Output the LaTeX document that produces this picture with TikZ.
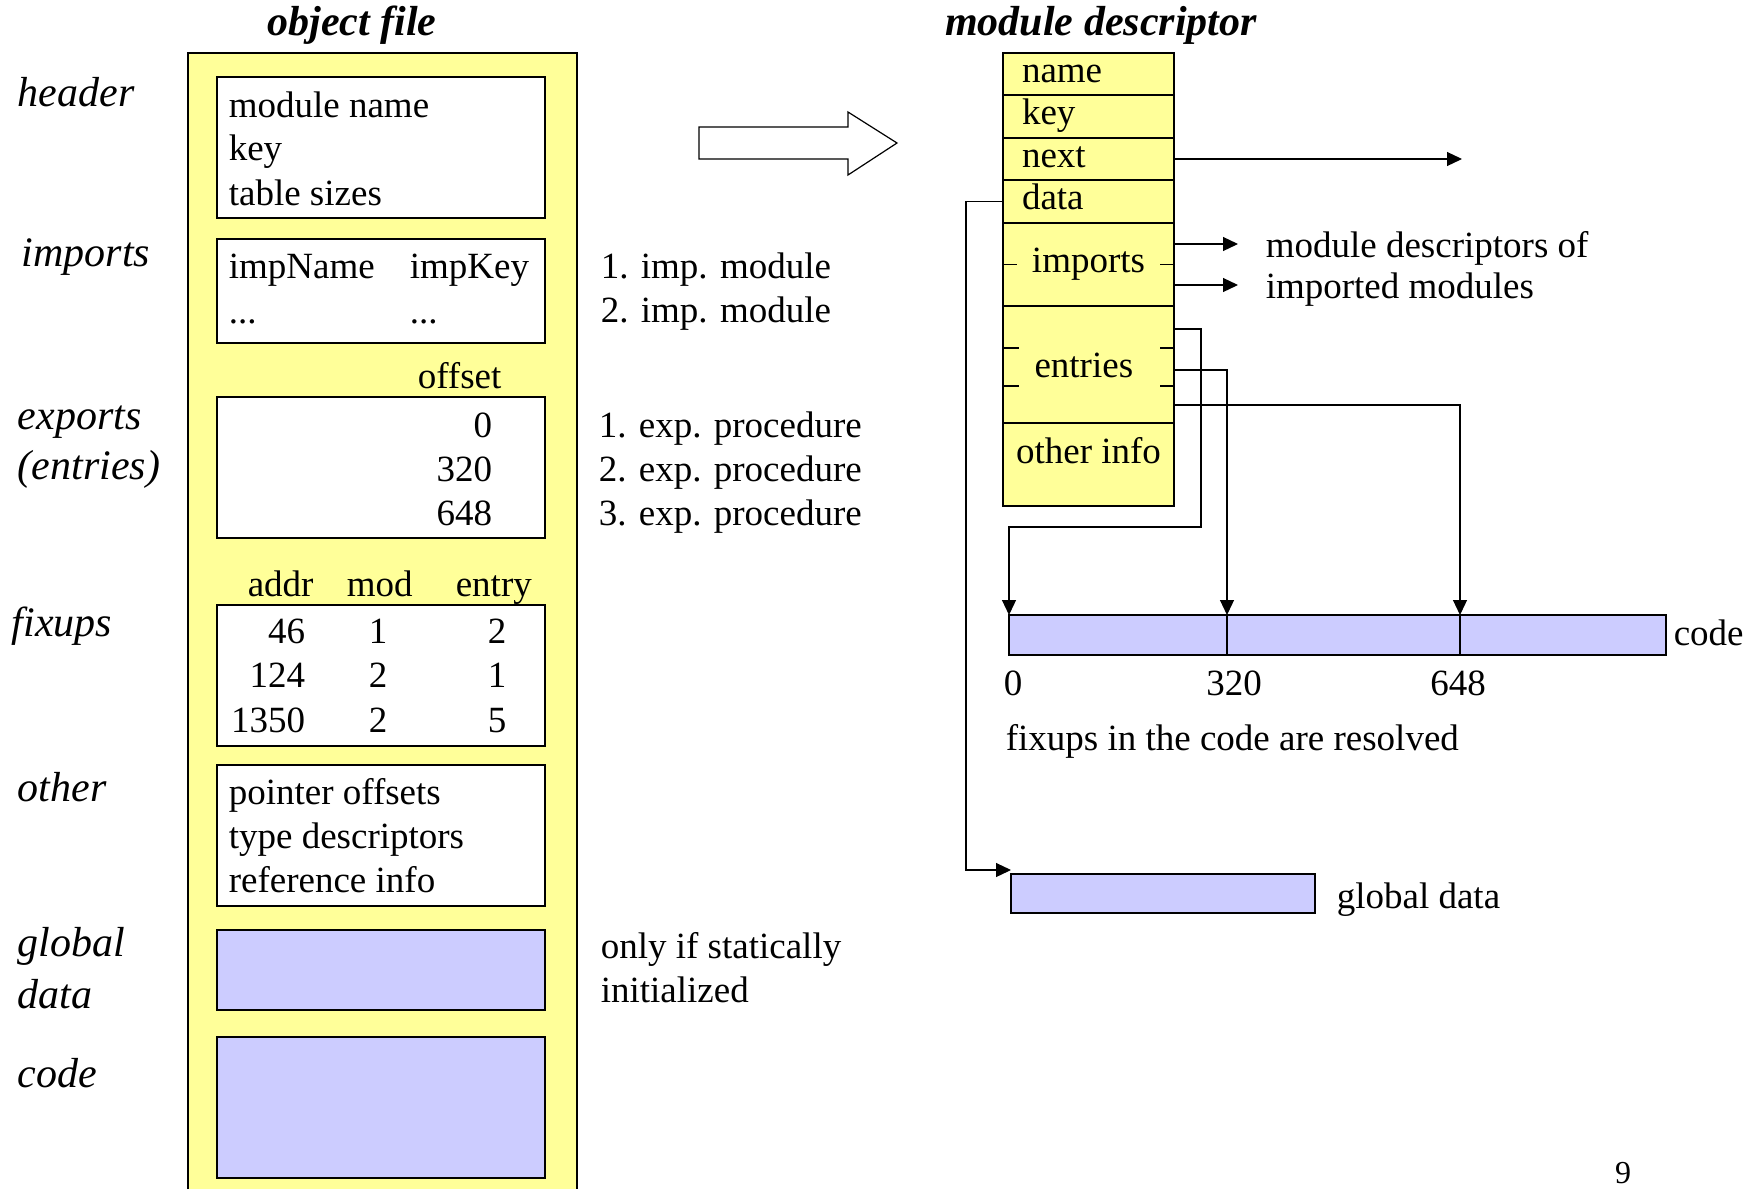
\documentclass[tikz,border=0pt]{standalone}
\usepackage{fontspec}
\setmainfont{Liberation Serif}
\usetikzlibrary{positioning,arrows.meta}
\definecolor{paleyellow}{HTML}{FFFF99}
\definecolor{paleblue}{HTML}{CCCCFF}

\begin{document}
\begin{tikzpicture}[x=0.5pt, y=-0.5pt,
		line width=0.8pt,
		txt/.style={anchor=base west, inner sep=0pt, font=\fontsize{18.5}{22}\selectfont},
		lbl/.style={anchor=base west, inner sep=0pt, font=\fontsize{21}{25}\selectfont\itshape},
		title/.style={anchor=base, inner sep=0pt, font=\fontsize{21}{25}\selectfont\bfseries\itshape},
		box/.style={draw, fill=white, anchor=north west, minimum width=164pt, inner sep=0pt, outer sep=0pt},
		bar/.style={draw, fill=paleblue, anchor=north west, inner sep=0pt, outer sep=0pt},
		field/.style={draw, fill=paleyellow, minimum width=85.5pt, inner ysep=0pt, outer sep=0pt,
			text height=13pt, text depth=4.6pt, font=\fontsize{18.5}{22}\selectfont},
		lfield/.style={field, text width=66.5pt, inner xsep=9.5pt, align=left},
		conn/.style={line width=0.6pt},
		arr/.style={conn, -{Triangle[length=7.5pt, width=7pt]}}]

	\useasboundingbox (0,0) rectangle (1756,1189);

	\draw[fill=paleyellow] (188,1189) |- (577,53) -- (577,1189);
	\node[title] (tObj) at (352,35) {object file};
	\node[title] (tMod) at (1101,35) {module descriptor};

	\node[box, minimum height=70.5pt] (hdr) at (217,77) {};
	\node[box, minimum height=52pt] (imp) at (217,239) {};
	\node[box, minimum height=70.5pt] (exp) at (217,397) {};
	\node[box, minimum height=70.5pt] (fix) at (217,605) {};
	\node[box, minimum height=70.5pt] (oth) at (217,765) {};
	\node[box, fill=paleblue, minimum height=40pt] (gdat) at (217,930) {};
	\node[box, fill=paleblue, minimum height=70.5pt] (cod) at (217,1037) {};

	\node[lbl] (lHdr) at (17,106) {header};
	\node[lbl] (lImp) at (21,266) {imports};
	\node[lbl] (lExp) at (17,429) {exports};
	\node[lbl] (lEnt) at (17,479) {(entries)};
	\node[lbl] (lFix) at (11,636) {fixups};
	\node[lbl] (lOth) at (17,801) {other};
	\node[lbl] (lGlo) at (17,956) {global};
	\node[lbl] (lDat) at (17,1008) {data};
	\node[lbl] (lCod) at (17,1087) {code};

	\node[txt] (h1) at (228,117) {module name};
	\node[txt] (h2) at (228,160) {key};
	\node[txt] (h3) at (228,205) {table sizes};
	\node[txt] (i1) at (228,278) {impName};
	\node[txt] (i2) at (409,278) {impKey};
	\node[txt] (i3) at (228,323) {...};
	\node[txt] (i4) at (409,323) {...};
	\node[txt] (off) at (417,388) {offset};
	\node[txt, anchor=base east] (x1) at (493,437) {0};
	\node[txt, anchor=base east] (x2) at (493,481) {320};
	\node[txt, anchor=base east] (x3) at (493,525) {648};
	\node[txt] (fA) at (247,596) {addr};
	\node[txt] (fM) at (346,596) {mod};
	\node[txt] (fE) at (455,596) {entry};
	\foreach \a/\m/\e [count=\i from 0] in {46/1/2, 124/2/1, 1350/2/5} {
		\node[txt, anchor=base east] (fa\i) at (306,{643+44.5*\i}) {\a};
		\node[txt, anchor=base] (fm\i) at (378,{643+44.5*\i}) {\m};
		\node[txt, anchor=base] (fe\i) at (497,{643+44.5*\i}) {\e};
	}
	\node[txt] (o1) at (228,804) {pointer offsets};
	\node[txt] (o2) at (228,848) {type descriptors};
	\node[txt] (o3) at (228,892) {reference info};

	\node[txt] (m1) at (600,278) {1. imp. module};
	\node[txt] (m2) at (600,322) {2. imp. module};
	\node[txt] (p1) at (598,437) {1. exp. procedure};
	\node[txt] (p2) at (598,481) {2. exp. procedure};
	\node[txt] (p3) at (598,525) {3. exp. procedure};
	\node[txt] (s1) at (600,958) {only if statically};
	\node[txt] (s2) at (600,1002) {initialized};

	\draw[conn] (699,127) -- (848,127) -- (848,112) -- (897,143) -- (848,175) -- (848,159) -- (699,159) -- cycle;

	\node[lfield, minimum height=21pt, anchor=north west] (name) at (1003,53) {name};
	\node[lfield, minimum height=21.5pt, below=0pt of name] (key) {key};
	\node[lfield, minimum height=21pt, below=0pt of key] (next) {next};
	\node[lfield, minimum height=21.5pt, below=0pt of next] (data) {data};
	\node[field, minimum height=41.5pt, below=0pt of data] (imps) {imports};
	\node[field, minimum height=58.5pt, text depth=0.5pt, text width=72pt, align=left, below=0pt of imps] (ents) {\hspace*{9pt}entries};
	\node[field, minimum height=41.5pt, text depth=14.5pt, below=0pt of ents] (other) {other info};

	\draw[conn] (imps.west) -- ++(14,0) (imps.east) -- ++(-14,0);
	\draw[conn] ([yshift=8.25pt]ents.west) -- ++(16,0) ([yshift=-10.75pt]ents.west) -- ++(16,0)
		([yshift=8.25pt]ents.east) -- ++(-14,0) ([yshift=-10.75pt]ents.east) -- ++(-14,0);

	\coordinate (nextEnd) at (1462,159);
	\coordinate (impEnd) at (1238,0);
	\draw[arr] (next.east) -- (next.east -| nextEnd);
	\draw[arr] ([yshift=10.25pt]imps.east) -- ([yshift=10.25pt]imps.east -| impEnd);
	\draw[arr] ([yshift=-10.25pt]imps.east) -- ([yshift=-10.25pt]imps.east -| impEnd);
	\node[txt] (d1) at (1265,257) {module descriptors of};
	\node[txt] (d2) at (1265,298) {imported modules};

	\node[bar, minimum width=328.5pt, minimum height=20pt] (codebar) at (1009,615) {};
	\coordinate (c320) at (1227,615);
	\coordinate (c648) at (1460,615);
	\coordinate (bend) at (1201,527);
	\draw (c320) -- (c320 |- codebar.south);
	\draw (c648) -- (c648 |- codebar.south);
	\draw[arr] ([yshift=17.75pt]ents.east) -| (bend) -| (codebar.north west);
	\draw[arr] ([yshift=-2.75pt]ents.east) -| (c320);
	\draw[arr] ([yshift=-20.25pt]ents.east) -| (c648);
	\node[txt] (codeLbl) at (1673,645) {code};
	\node[txt, anchor=base] (n0) at (1013,695) {0};
	\node[txt, anchor=base] (n320) at (1234,695) {320};
	\node[txt, anchor=base] (n648) at (1458,695) {648};
	\node[txt] (resolved) at (1005,750) {fixups in the code are resolved};

	\node[bar, minimum width=152pt, minimum height=19.5pt] (gbar) at (1011,874) {};
	\node[txt] (gLbl) at (1336,908) {global data};
	\draw[arr] (data.west) -- ++(-37,0) |- ([yshift=2pt]gbar.north west);

	\node[anchor=base, inner sep=0pt, font=\fontsize{16}{18}\selectfont] (pg) at (1623,1183) {9};
\end{tikzpicture}
\end{document}
